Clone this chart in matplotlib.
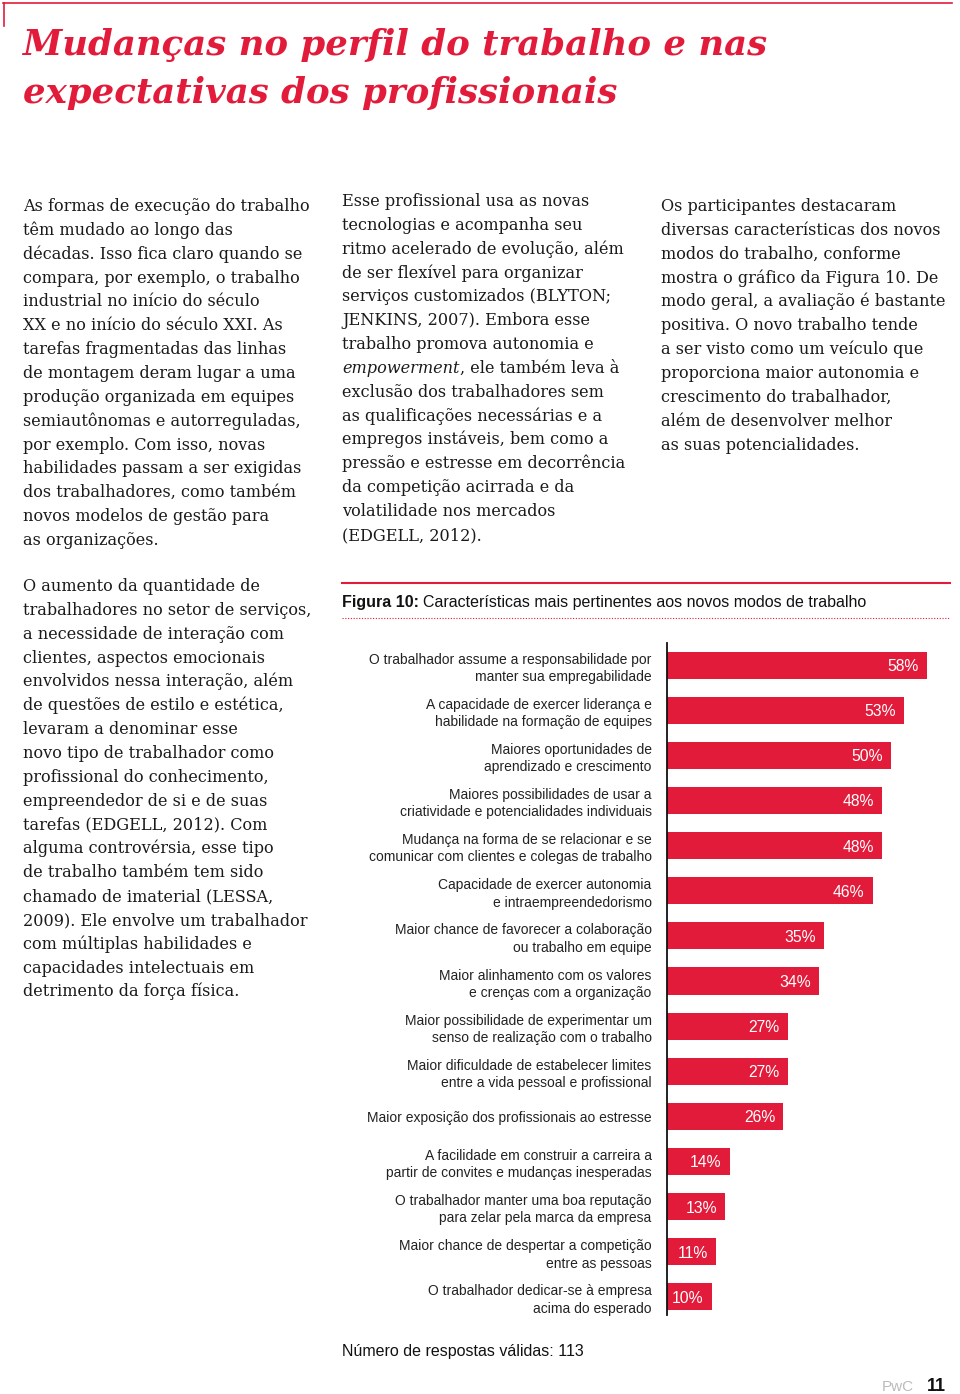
import matplotlib
matplotlib.use('Agg')
import matplotlib.pyplot as plt
from matplotlib.lines import Line2D

RED = '#E31B3B'
W, H = 960, 1394

# chart data
labels = [
    'O trabalhador assume a responsabilidade por\nmanter sua empregabilidade',
    'A capacidade de exercer liderança e\nhabilidade na formação de equipes',
    'Maiores oportunidades de\naprendizado e crescimento',
    'Maiores possibilidades de usar a\ncriatividade e potencialidades individuais',
    'Mudança na forma de se relacionar e se\ncomunicar com clientes e colegas de trabalho',
    'Capacidade de exercer autonomia\ne intraempreendedorismo',
    'Maior chance de favorecer a colaboração\nou trabalho em equipe',
    'Maior alinhamento com os valores\ne crenças com a organização',
    'Maior possibilidade de experimentar um\nsenso de realização com o trabalho',
    'Maior dificuldade de estabelecer limites\nentre a vida pessoal e profissional',
    'Maior exposição dos profissionais ao estresse',
    'A facilidade em construir a carreira a\npartir de convites e mudanças inesperadas',
    'O trabalhador manter uma boa reputação\npara zelar pela marca da empresa',
    'Maior chance de despertar a competição\nentre as pessoas',
    'O trabalhador dedicar-se à empresa\nacima do esperado',
]
values = [58, 53, 50, 48, 48, 46, 35, 34, 27, 27, 26, 14, 13, 11, 10]

title_lines = ['Mudanças no perfil do trabalho e nas',
               'expectativas dos profissionais']

col1a = [
    'As formas de execução do trabalho',
    'têm mudado ao longo das',
    'décadas. Isso fica claro quando se',
    'compara, por exemplo, o trabalho',
    'industrial no início do século',
    'XX e no início do século XXI. As',
    'tarefas fragmentadas das linhas',
    'de montagem deram lugar a uma',
    'produção organizada em equipes',
    'semiautônomas e autorreguladas,',
    'por exemplo. Com isso, novas',
    'habilidades passam a ser exigidas',
    'dos trabalhadores, como também',
    'novos modelos de gestão para',
    'as organizações.',
]
col1b = [
    'O aumento da quantidade de',
    'trabalhadores no setor de serviços,',
    'a necessidade de interação com',
    'clientes, aspectos emocionais',
    'envolvidos nessa interação, além',
    'de questões de estilo e estética,',
    'levaram a denominar esse',
    'novo tipo de trabalhador como',
    'profissional do conhecimento,',
    'empreendedor de si e de suas',
    'tarefas (EDGELL, 2012). Com',
    'alguma controvérsia, esse tipo',
    'de trabalho também tem sido',
    'chamado de imaterial (LESSA,',
    '2009). Ele envolve um trabalhador',
    'com múltiplas habilidades e',
    'capacidades intelectuais em',
    'detrimento da força física.',
]
col2 = [
    'Esse profissional usa as novas',
    'tecnologias e acompanha seu',
    'ritmo acelerado de evolução, além',
    'de ser flexível para organizar',
    'serviços customizados (BLYTON;',
    'JENKINS, 2007). Embora esse',
    'trabalho promova autonomia e',
    None,  # empowerment line, drawn separately
    'exclusão dos trabalhadores sem',
    'as qualificações necessárias e a',
    'empregos instáveis, bem como a',
    'pressão e estresse em decorrência',
    'da competição acirrada e da',
    'volatilidade nos mercados',
    '(EDGELL, 2012).',
]
col3 = [
    'Os participantes destacaram',
    'diversas características dos novos',
    'modos do trabalho, conforme',
    'mostra o gráfico da Figura 10. De',
    'modo geral, a avaliação é bastante',
    'positiva. O novo trabalho tende',
    'a ser visto como um veículo que',
    'proporciona maior autonomia e',
    'crescimento do trabalhador,',
    'além de desenvolver melhor',
    'as suas potencialidades.',
]

SERIF = 'DejaVu Serif'
SANS = 'Liberation Sans'
BODY = 11.6
STEP = 23.85

fig = plt.figure(figsize=(9.6, 13.94), dpi=100)
r = fig.canvas.get_renderer()


def fx(x):
    return x / W


def fy(y):
    return 1 - y / H


def hline(x0, x1, y, **kw):
    fig.add_artist(Line2D([fx(x0), fx(x1)], [fy(y), fy(y)],
                          transform=fig.transFigure, **kw))


# page frame lines
hline(3, 952, 3, color=RED, lw=1.2)
fig.add_artist(Line2D([fx(4), fx(4)], [fy(3), fy(26)],
                      transform=fig.transFigure, color=RED, lw=1.2))

# title
for i, t in enumerate(title_lines):
    fig.text(fx(23), fy(55 + 48 * i), t, fontsize=25.6, family=SERIF,
             weight='bold', style='italic', color=RED, va='baseline')


def column(x, y0, lines):
    for i, t in enumerate(lines):
        if t is None:
            continue
        fig.text(fx(x), fy(y0 + i * STEP), t, fontsize=BODY, family=SERIF,
                 color='#1a1a1a', va='baseline')


column(23, 211, col1a)
column(23, 591, col1b)
column(342, 206, col2)
column(661, 211, col3)

# italic word line in column 2
yb = 206 + 7 * STEP
t = fig.text(fx(342), fy(yb), 'empowerment', fontsize=BODY, family=SERIF,
             style='italic', color='#1a1a1a', va='baseline')
wpx = t.get_window_extent(renderer=r).width
fig.text(fx(342 + wpx), fy(yb), ', ele também leva à', fontsize=BODY,
         family=SERIF, color='#1a1a1a', va='baseline')

# figure caption
hline(342, 950, 583, color=RED, lw=1.5)
t = fig.text(fx(342), fy(607), 'Figura 10:', fontsize=11.5, family=SANS,
             weight='bold', color='#111111', va='baseline')
wpx = t.get_window_extent(renderer=r).width
fig.text(fx(342 + wpx + 4), fy(607),
         'Características mais pertinentes aos novos modos de trabalho',
         fontsize=11.5, family=SANS, color='#111111', va='baseline')
hline(342, 950, 618, color=RED, lw=0.8, ls=(0, (1, 1.5)))

# bar chart
ax = fig.add_axes([fx(667), fy(1315), (958 - 667) / W, (1315 - 643) / H])
pos = list(range(len(values)))
ax.barh(pos, values, height=0.6, color=RED)
ax.set_xlim(0, 65)
ax.set_ylim(14.4, -0.49)
ax.set_yticks(pos, labels, fontsize=10, family=SANS, color='#222222')
for lab in ax.get_yticklabels():
    lab.set_linespacing(1.3)
ax.tick_params(axis='y', length=0, pad=11)
ax.set_xticks([])
for s in ['top', 'right', 'bottom']:
    ax.spines[s].set_visible(False)
ax.spines['left'].set_color('#111111')
ax.spines['left'].set_linewidth(1.3)
for i, v in enumerate(values):
    ax.annotate(f'{v}%', xy=(v, i), xytext=(-6, -1), textcoords='offset points',
                ha='right', va='center', color='white', fontsize=11.3,
                family=SANS)

# footer
fig.text(fx(342), fy(1356), 'Número de respostas válidas: 113', fontsize=11.5,
         family=SANS, color='#111111', va='baseline')
fig.text(fx(882), fy(1391), 'PwC', fontsize=11, family=SANS, color='#bbbbbb',
         va='baseline')
fig.text(fx(927), fy(1391), '11', fontsize=13, family=SANS, weight='bold',
         color='#111111', va='baseline')

fig.savefig('out.png', dpi=100)
